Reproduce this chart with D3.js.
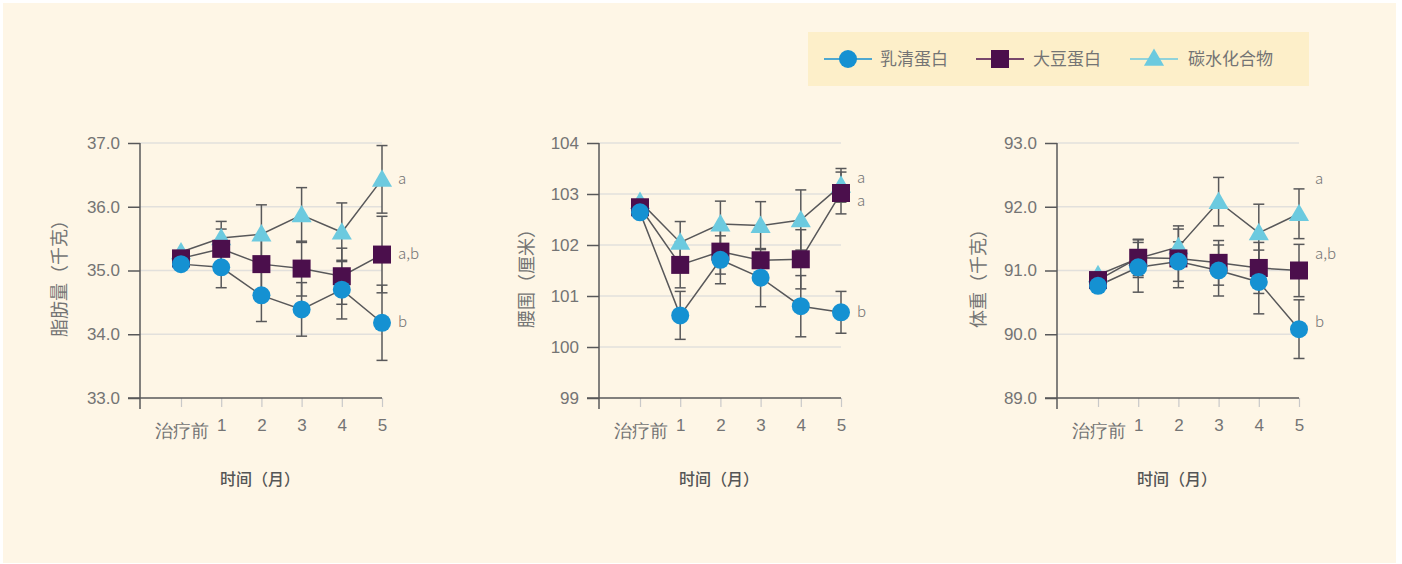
<!DOCTYPE html>
<html>
<head>
<meta charset="utf-8">
<script src="https://cdn.jsdelivr.net/npm/d3@7"></script>
<style>
  html, body { margin: 0; padding: 0; background: #ffffff; }
  svg { display: block; font-family: "Noto Sans CJK SC", "Noto Sans", sans-serif; }
</style>
</head>
<body>
<svg id="chart" width="1402" height="564"></svg>
<script>
// x categories
const months = ["治疗前", "1", "2", "3", "4", "5"];

// 脂肪量 (kg)
const fatWhey = [35.10, 35.05, 34.61, 34.39, 34.70, 34.18];
const fatWheyErr = [0, 0.32, 0.41, 0.42, 0.46, 0.59];
const fatSoy = [35.19, 35.34, 35.10, 35.03, 34.91, 35.25];
const fatSoyErr = [0, 0.31, 0.40, 0.43, 0.44, 0.60];
const fatCarb = [35.29, 35.51, 35.57, 35.87, 35.60, 36.43];
const fatCarbErr = [0, 0.26, 0.46, 0.43, 0.46, 0.53];

// 腰围 (cm)
const waistWhey = [102.64, 100.62, 101.71, 101.36, 100.80, 100.68];
const waistWheyErr = [0, 0.47, 0.47, 0.57, 0.60, 0.41];
const waistSoy = [102.74, 101.61, 101.87, 101.70, 101.72, 103.02];
const waistSoyErr = [0, 0.45, 0.44, 0.15, 0.58, 0.41];
const waistCarb = [102.85, 102.05, 102.41, 102.38, 102.49, 103.17];
const waistCarbErr = [0, 0.41, 0.45, 0.47, 0.59, 0.33];

// 体重 (kg)
const wtWhey = [90.76, 91.05, 91.14, 91.00, 90.82, 90.08];
const wtWheyErr = [0, 0.39, 0.31, 0.40, 0.50, 0.46];
const wtSoy = [90.85, 91.20, 91.19, 91.12, 91.04, 91.00];
const wtSoyErr = [0, 0.28, 0.46, 0.35, 0.40, 0.41];
const wtCarb = [90.93, 91.19, 91.37, 92.08, 91.59, 91.89];
const wtCarbErr = [0, 0.30, 0.33, 0.38, 0.45, 0.39];

// significance letters and the value they sit at
const fatSig = ["a", "a,b", "b"];
const fatSigAt = [36.43, 35.25, 34.18];
const waistSig = ["a", "a", "b"];
const waistSigAt = [103.30, 102.86, 100.67];
const wtSig = ["a", "a,b", "b"];
const wtSigAt = [92.42, 91.25, 90.18];

const seriesNames = ["乳清蛋白", "大豆蛋白", "碳水化合物"];
const colors = { whey: "#1591d2", soy: "#4b0f4c", carb: "#6ccadf" };

const panels = [
  { title: "脂肪量（千克）", domain: [33, 37], ticks: [33, 34, 35, 36, 37], fmt: d3.format(".1f"),
    whey: fatWhey, wheyErr: fatWheyErr, soy: fatSoy, soyErr: fatSoyErr, carb: fatCarb, carbErr: fatCarbErr,
    sig: fatSig, sigAt: fatSigAt, titleDx: -80 },
  { title: "腰围（厘米）", domain: [99, 104], ticks: [99, 100, 101, 102, 103, 104], fmt: d3.format("d"),
    whey: waistWhey, wheyErr: waistWheyErr, soy: waistSoy, soyErr: waistSoyErr, carb: waistCarb, carbErr: waistCarbErr,
    sig: waistSig, sigAt: waistSigAt, titleDx: -72 },
  { title: "体重（千克）", domain: [89, 93], ticks: [89, 90, 91, 92, 93], fmt: d3.format(".1f"),
    whey: wtWhey, wheyErr: wtWheyErr, soy: wtSoy, soyErr: wtSoyErr, carb: wtCarb, carbErr: wtCarbErr,
    sig: wtSig, sigAt: wtSigAt, titleDx: -78 }
];

const svg = d3.select("#chart");
svg.append("rect").attr("x", 3).attr("y", 3).attr("width", 1393).attr("height", 560).attr("fill", "#fef6e6");

const axisOrigins = [140, 599, 1057];
const plotTop = 143, plotBottom = 398;
const textGray = "#747474";
const lineGray = "#58585a";

const circleSym = d3.symbol().type(d3.symbolCircle).size(Math.PI * 9 * 9);
const squareSym = d3.symbol().type(d3.symbolSquare).size(18 * 18);
const triSym = d3.symbol().type(d3.symbolTriangle).size(175);

panels.forEach((p, i) => {
  const ox = axisOrigins[i];
  const x = d3.scalePoint().domain(months).range([ox + 41, ox + 242]);
  const y = d3.scaleLinear().domain(p.domain).range([plotBottom, plotTop]);
  const g = svg.append("g");

  // gridlines
  g.selectAll(".grid").data(p.ticks.slice(1)).enter().append("line")
    .attr("x1", ox).attr("x2", ox + 242)
    .attr("y1", d => y(d)).attr("y2", d => y(d))
    .attr("stroke", "#e2e0dc").attr("stroke-width", 1.5);

  // y axis
  const yAxis = g.append("g").attr("transform", `translate(${ox},0)`)
    .call(d3.axisLeft(y).tickValues(p.ticks).tickFormat(p.fmt).tickSize(12).tickPadding(8));
  yAxis.select(".domain").remove();
  yAxis.selectAll(".tick line").attr("stroke", lineGray).attr("stroke-width", 1.5);
  yAxis.selectAll(".tick text").attr("fill", textGray).attr("font-size", 17).attr("font-weight", 300);
  g.append("line").attr("x1", ox).attr("x2", ox).attr("y1", plotTop).attr("y2", plotBottom + 11)
    .attr("stroke", lineGray).attr("stroke-width", 1.5);

  // x axis
  const xAxis = g.append("g").attr("transform", `translate(0,${plotBottom})`)
    .call(d3.axisBottom(x).tickSize(9).tickPadding(10));
  xAxis.select(".domain").remove();
  xAxis.selectAll(".tick line").attr("stroke", "#c9c9c9").attr("stroke-width", 1.2);
  xAxis.selectAll(".tick text").attr("fill", textGray).attr("font-weight", 300)
    .attr("font-size", (d, j) => j === 0 ? 18 : 17)
    .attr("dy", (d, j) => j === 0 ? "1.1em" : "0.85em");
  g.append("line").attr("x1", ox - 12).attr("x2", ox + 242).attr("y1", plotBottom).attr("y2", plotBottom)
    .attr("stroke", lineGray).attr("stroke-width", 1.5);

  // titles
  g.append("text").attr("x", ox + 120).attr("y", 485).attr("text-anchor", "middle")
    .attr("font-size", 16).attr("font-weight", 500).attr("fill", "#555").text("时间（月）");
  g.append("text").attr("transform", `translate(${ox + p.titleDx},274) rotate(-90)`)
    .attr("text-anchor", "middle").attr("dy", "0.35em")
    .attr("font-size", 18).attr("fill", textGray).text(p.title);

  const series = [
    { key: "carb", vals: p.carb, err: p.carbErr, sym: triSym },
    { key: "soy", vals: p.soy, err: p.soyErr, sym: squareSym },
    { key: "whey", vals: p.whey, err: p.wheyErr, sym: circleSym }
  ];
  const line = d3.line().x((d, j) => x(months[j])).y(d => y(d));

  // error bars
  series.forEach(s => {
    const eb = g.append("g").attr("stroke", lineGray).attr("stroke-width", 1.5);
    s.vals.forEach((v, j) => {
      if (!s.err[j]) return;
      const cx = x(months[j]);
      eb.append("line").attr("x1", cx).attr("x2", cx).attr("y1", y(v - s.err[j])).attr("y2", y(v + s.err[j]));
      [v - s.err[j], v + s.err[j]].forEach(e => {
        eb.append("line").attr("x1", cx - 5.5).attr("x2", cx + 5.5).attr("y1", y(e)).attr("y2", y(e));
      });
    });
  });

  // connecting lines
  series.forEach(s => {
    g.append("path").datum(s.vals).attr("d", line)
      .attr("fill", "none").attr("stroke", lineGray).attr("stroke-width", 1.5);
  });

  // markers
  series.forEach(s => {
    g.selectAll(".m-" + s.key).data(s.vals).enter().append("path")
      .attr("d", s.sym)
      .attr("transform", (d, j) => `translate(${x(months[j])},${y(d) + (s.key === "carb" ? 1.5 : 0)})`)
      .attr("fill", colors[s.key]);
  });

  // significance letters
  g.selectAll(".sig").data(p.sig).enter().append("text")
    .attr("x", x("5") + 16).attr("y", (d, j) => y(p.sigAt[j])).attr("dy", "0.3em")
    .attr("font-size", 15).attr("font-weight", 300).attr("fill", textGray).text(d => d);
});

// legend
const leg = svg.append("g");
leg.append("rect").attr("x", 808).attr("y", 32).attr("width", 501).attr("height", 54).attr("fill", "#fdefc9");
const legKeys = ["whey", "soy", "carb"];
const legSyms = [circleSym, squareSym, triSym];
const legX = [848, 1000, 1154];
const legTextX = [880, 1033, 1188];
legKeys.forEach((k, i) => {
  leg.append("line").attr("x1", legX[i] - 24).attr("x2", legX[i] + 24).attr("y1", 59).attr("y2", 59)
    .attr("stroke", colors[k]).attr("stroke-width", 1.5);
  leg.append("path").attr("d", legSyms[i]).attr("transform", `translate(${legX[i]},${k === "carb" ? 60 : 59})`)
    .attr("fill", colors[k]);
  leg.append("text").attr("x", legTextX[i]).attr("y", 59).attr("dy", "0.35em")
    .attr("font-size", 17).attr("fill", textGray).text(seriesNames[i]);
});
</script>
</body>
</html>
